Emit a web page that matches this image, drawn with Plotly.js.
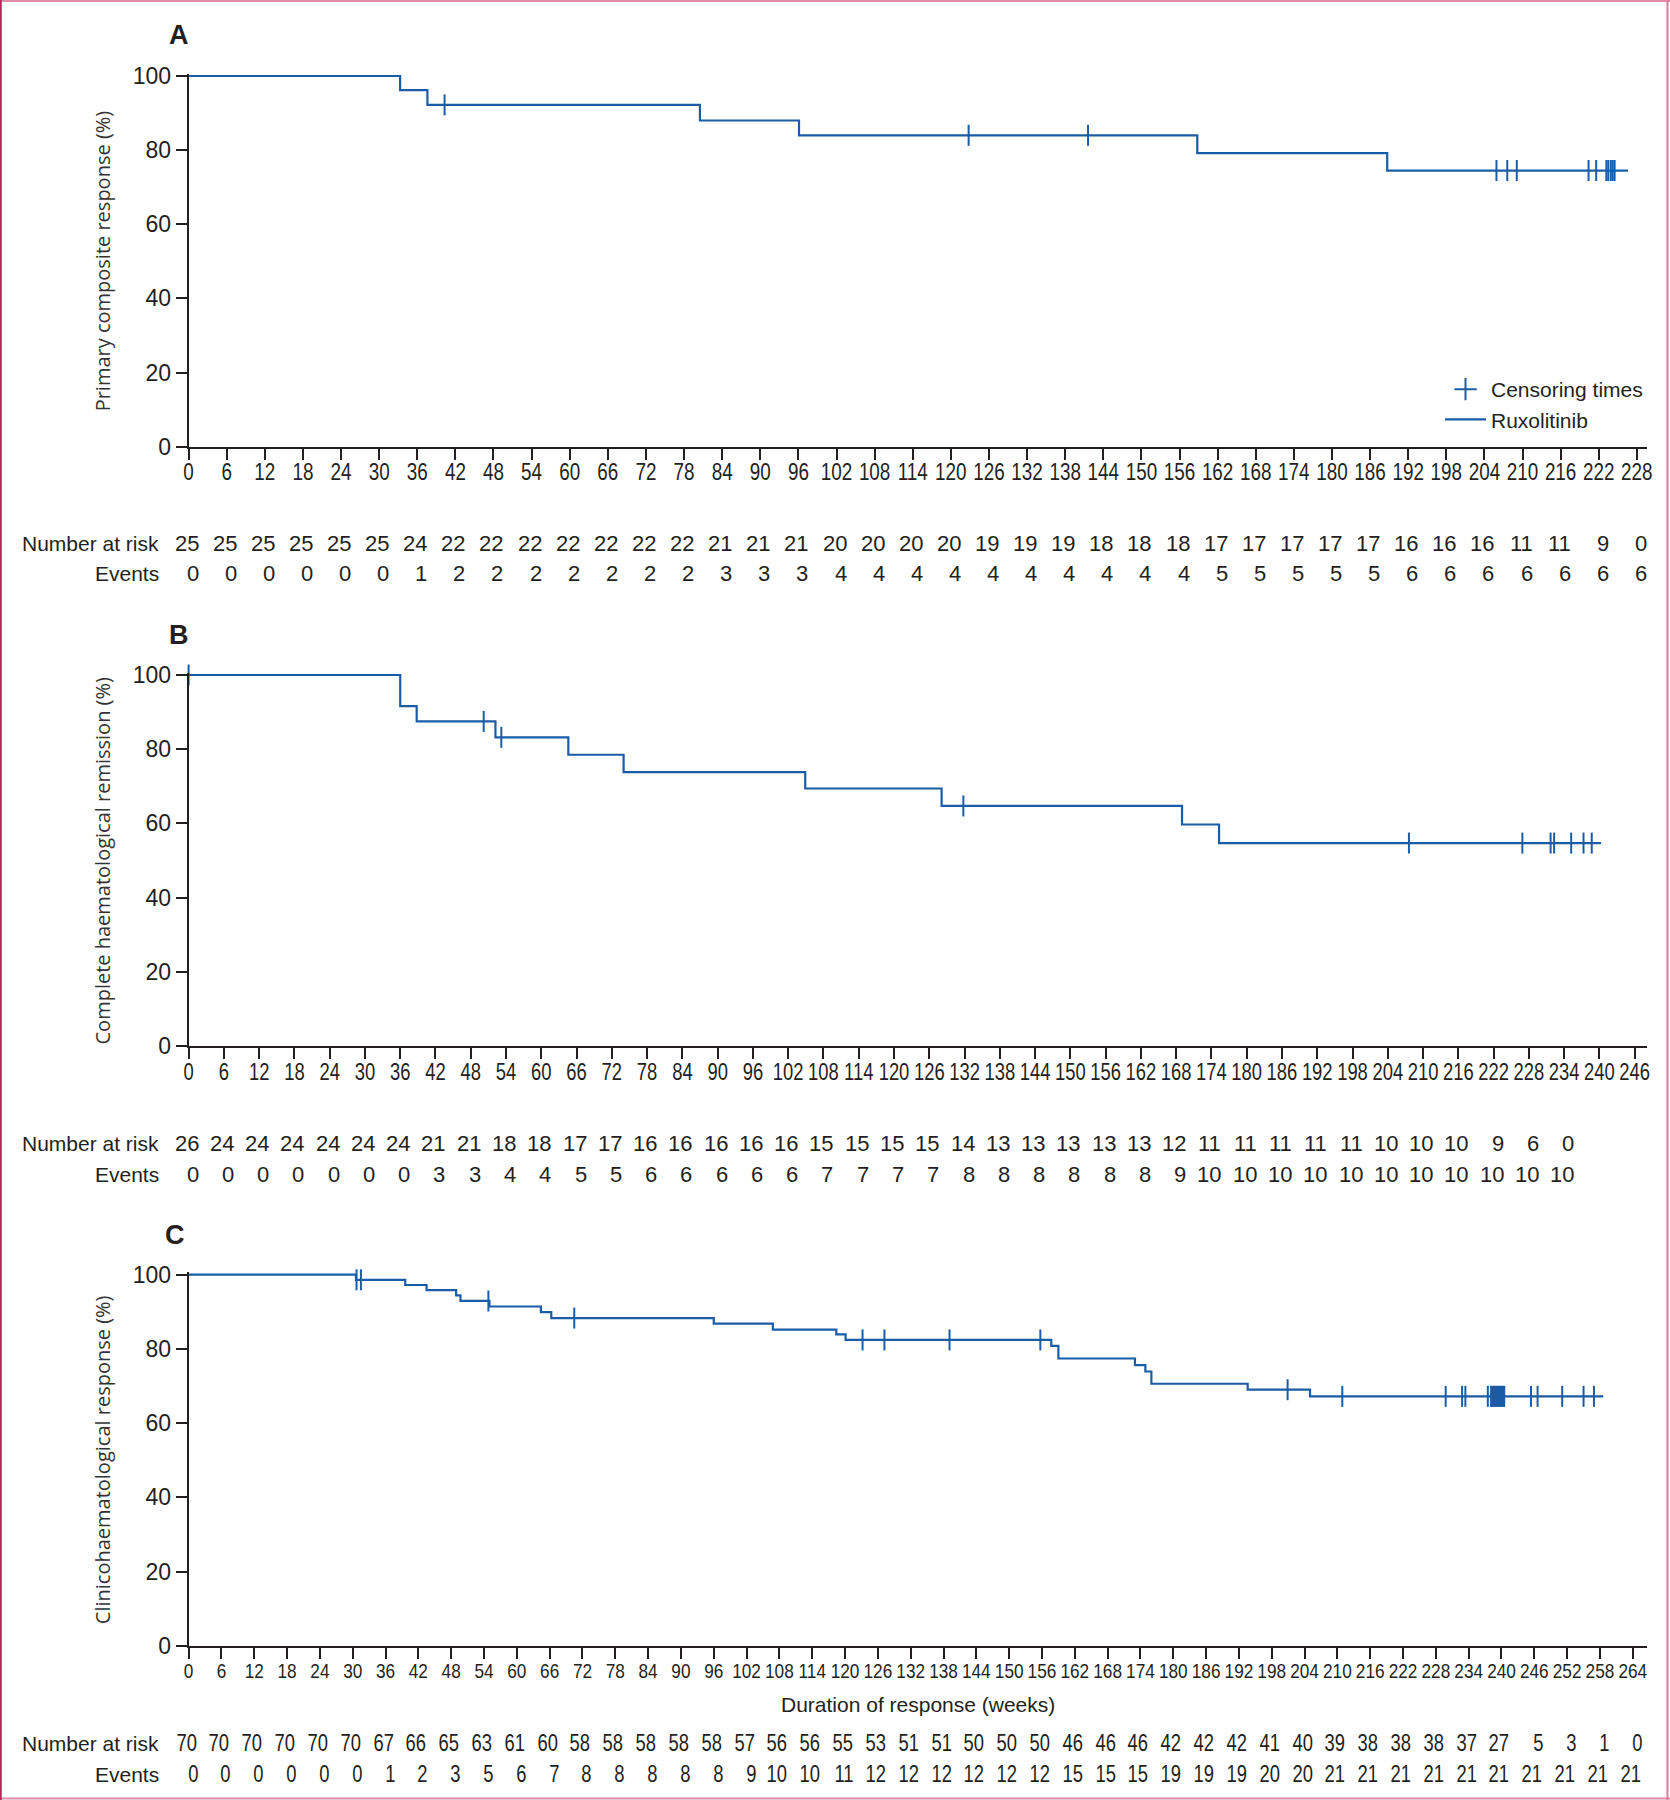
<!DOCTYPE html>
<html><head><meta charset="utf-8">
<script src="https://cdn.plot.ly/plotly-3.0.1.min.js"></script>
<style>html,body{margin:0;padding:0;background:#fff}</style>
</head><body><div id="chart" style="width:1670px;height:1800px"></div>
<script>
// ---------- Panel A: Primary composite response ----------
const aEventTimes = [33.3, 37.6, 80.5, 96.1, 158.8, 188.7];
const aSurvival   = [96.2, 92.2, 88.0, 84.0, 79.2, 74.5];
const aEnd = 226.6;
const aCensor = [40.3, 122.8, 141.6, 205.9, 207.6, 209.1, 220.4, 221.6, 223.2, 223.5, 223.9, 224.2, 224.5];
const aWeeks  = [0,6,12,18,24,30,36,42,48,54,60,66,72,78,84,90,96,102,108,114,120,126,132,138,144,150,156,162,168,174,180,186,192,198,204,210,216,222,228];
const aAtRisk = [25,25,25,25,25,25,24,22,22,22,22,22,22,22,21,21,21,20,20,20,20,19,19,19,18,18,18,17,17,17,17,17,16,16,16,11,11,9,0];
const aEvents = [0,0,0,0,0,0,1,2,2,2,2,2,2,2,3,3,3,4,4,4,4,4,4,4,4,4,4,5,5,5,5,5,6,6,6,6,6,6,6];

// ---------- Panel B: Complete haematological remission ----------
const bEventTimes = [36.0, 38.8, 52.2, 64.6, 74.0, 104.9, 128.1, 169.0, 175.3];
const bSurvival   = [91.6, 87.5, 83.2, 78.5, 73.8, 69.4, 64.7, 59.7, 54.7];
const bEnd = 240.3;
const bCensor = [0, 50.2, 53.2, 131.8, 207.6, 226.9, 231.7, 232.3, 235.2, 237.3, 238.7];
const bWeeks  = [0,6,12,18,24,30,36,42,48,54,60,66,72,78,84,90,96,102,108,114,120,126,132,138,144,150,156,162,168,174,180,186,192,198,204,210,216,222,228,234];
const bAtRisk = [26,24,24,24,24,24,24,21,21,18,18,17,17,16,16,16,16,16,15,15,15,15,14,13,13,13,13,13,12,11,11,11,11,11,10,10,10,9,6,0];
const bEvents = [0,0,0,0,0,0,0,3,3,4,4,5,5,6,6,6,6,6,7,7,7,7,8,8,8,8,8,8,9,10,10,10,10,10,10,10,10,10,10,10];

// ---------- Panel C: Clinicohaematological response ----------
const cEventTimes = [30.6, 39.6, 43.5, 48.9, 49.7, 55.0, 64.4, 66.3, 96.0, 106.8, 118.4, 120.1, 157.7, 159.0, 173.0, 174.9, 176.0, 193.6, 205.0];
const cSurvival   = [98.6, 97.2, 95.8, 94.4, 92.9, 91.4, 89.9, 88.3, 86.8, 85.2, 83.9, 82.4, 80.8, 77.4, 75.6, 73.9, 70.6, 69.0, 67.2];
const cEnd = 258.6;
const cCensor = [30.7, 31.5, 54.8, 70.5, 123.2, 127.2, 139.1, 155.7, 200.9, 210.9, 229.8, 232.8, 233.4, 237.5,
                 238.1, 238.3, 238.5, 238.7, 238.9, 239.1, 239.3, 239.5, 239.7, 239.9, 240.1, 240.3, 240.5,
                 245.4, 246.6, 251.1, 255.0, 256.9];
const cWeeks  = [0,6,12,18,24,30,36,42,48,54,60,66,72,78,84,90,96,102,108,114,120,126,132,138,144,150,156,162,168,174,180,186,192,198,204,210,216,222,228,234,240,246,252,258,264];
const cAtRisk = [70,70,70,70,70,70,67,66,65,63,61,60,58,58,58,58,58,57,56,56,55,53,51,51,50,50,50,46,46,46,42,42,42,41,40,39,38,38,38,37,27,5,3,1,0];
const cEvents = [0,0,0,0,0,0,1,2,3,5,6,7,8,8,8,8,8,9,10,10,11,12,12,12,12,12,12,15,15,15,19,19,19,20,20,21,21,21,21,21,21,21,21,21,21];

const yTitles = ['Primary composite response (%)', 'Complete haematological remission (%)', 'Clinicohaematological response (%)'];
const panelLetters = ['A', 'B', 'C'];
const seriesName = 'Ruxolitinib';
const censorName = 'Censoring times';
const xTitle = 'Duration of response (weeks)';

// ---------- helpers ----------
const W = 1670, H = 1800;
const BLUE = '#1a5ca6', INK = '#231f20';
const NUM = 'Liberation Sans, Arial, sans-serif';
const px2y = p => (H - p) / H;
const px2x = p => p / W;

function stepAt(times, surv, t) {
  let v = 100;
  for (let i = 0; i < times.length; i++) if (t >= times[i]) v = surv[i];
  return v;
}
function kmTraces(times, surv, end, censor, xa, ya, legend) {
  const lx = [0].concat(times, [end]);
  const ly = [100].concat(surv, [surv[surv.length - 1]]);
  return [
    {type: 'scatter', mode: 'lines', x: lx, y: ly, xaxis: xa, yaxis: ya,
     line: {shape: 'hv', color: BLUE, width: 2.2}, name: seriesName, showlegend: legend, hoverinfo: 'skip'},
    {type: 'scatter', mode: 'markers', x: censor, y: censor.map(t => stepAt(times, surv, t)),
     xaxis: xa, yaxis: ya, cliponaxis: false, showlegend: false, name: censorName, hoverinfo: 'skip',
     marker: {symbol: 'line-ns', size: 15, line: {color: BLUE, width: 2}}}
  ];
}

const data = [
  {type: 'scatter', mode: 'markers', x: [null], y: [null], xaxis: 'x', yaxis: 'y', name: censorName,
   showlegend: true, marker: {symbol: 'cross-thin', size: 16, line: {color: BLUE, width: 2}}}
].concat(
  kmTraces(aEventTimes, aSurvival, aEnd, aCensor, 'x', 'y', true),
  kmTraces(bEventTimes, bSurvival, bEnd, bCensor, 'x2', 'y2', false),
  kmTraces(cEventTimes, cSurvival, cEnd, cCensor, 'x3', 'y3', false)
);

// panel geometry (pixel positions in the 1670x1800 picture)
const panels = [
  {y0: 446.7, y100: 76.0,  xmax: 229.6, risk: 543.3, ev: 573.3, letterY: 35,  letterX: 179, tickSize: 23, squeeze: 0.82, standoff: -7},
  {y0: 1046,  y100: 675.0, xmax: 248.1, risk: 1143.6, ev: 1174, letterY: 635, letterX: 179, tickSize: 23, squeeze: 0.8, standoff: -7},
  {y0: 1645.8,y100: 1274.6,xmax: 266.6, risk: 1743.4, ev: 1774, letterY: 1234.5, letterX: 175, tickSize: 21, squeeze: 0.82, standoff: -6}
];
const xLeft = 188.6, xRight = 1647;
const YTOP = 100.6;

const layout = {
  width: W, height: H, margin: {l: 0, r: 0, t: 0, b: 0},
  paper_bgcolor: '#fff', plot_bgcolor: 'rgba(0,0,0,0)',
  showlegend: true,
  legend: {x: px2x(1440), y: px2y(369), xanchor: 'left', yanchor: 'top', bgcolor: 'rgba(0,0,0,0)',
           font: {family: NUM, size: 21, color: INK}, itemwidth: 41, tracegroupgap: 0, traceorder: 'normal'},
  annotations: [], shapes: []
};

panels.forEach((p, i) => {
  const sfx = i === 0 ? '' : String(i + 1);
  const pxPerUnit = (p.y0 - p.y100) / 100;
  const topPx = p.y0 - YTOP * pxPerUnit;
  layout['xaxis' + sfx] = {
    domain: [px2x(xLeft), px2x(xRight)], range: [0, p.xmax], anchor: 'y' + sfx,
    tickmode: 'linear', tick0: 0, dtick: 6, ticks: 'outside', ticklen: 11, tickwidth: 2, tickcolor: INK,
    showline: true, linewidth: 2, linecolor: INK, showgrid: false, zeroline: false, tickangle: 0,
    tickfont: {family: NUM, size: p.tickSize, color: INK}, ticklabelstandoff: p.standoff, fixedrange: true
  };
  layout['yaxis' + sfx] = {
    domain: [px2y(p.y0), px2y(topPx)], range: [0, YTOP], anchor: 'x' + sfx,
    tickmode: 'array', tickvals: [0, 20, 40, 60, 80, 100], ticktext: ['0', '20', '40', '60', '80', '100'],
    ticks: 'outside', ticklen: 11, tickwidth: 2, tickcolor: INK,
    showline: true, linewidth: 2, linecolor: INK, showgrid: false, zeroline: false,
    tickfont: {family: NUM, size: 23, color: INK}, ticklabelstandoff: 0, fixedrange: true
  };
  layout.annotations.push({xref: 'paper', yref: 'paper', x: px2x(p.letterX), y: px2y(p.letterY),
    xanchor: 'center', yanchor: 'middle', showarrow: false, text: '<b>' + panelLetters[i] + '</b>',
    font: {family: NUM, size: 27, color: INK}});
  layout.annotations.push({xref: 'paper', yref: 'paper', x: px2x(102), y: px2y((p.y0 + p.y100) / 2),
    xanchor: 'center', yanchor: 'middle', showarrow: false, textangle: -90, text: yTitles[i],
    font: {family: 'Open Sans, DejaVu Sans, sans-serif', size: 20, color: '#333'}});
  ['Number at risk', 'Events'].forEach((lab, k) => {
    layout.annotations.push({xref: 'paper', yref: 'paper', x: px2x(161), y: px2y(k === 0 ? p.risk : p.ev),
      xanchor: 'right', yanchor: 'middle', showarrow: false, text: lab,
      font: {family: NUM, size: 21, color: INK}});
  });
});

const squeezeAnn = [];
function riskRow(xref, weeks, vals, ypx, font, shift, squeeze) {
  weeks.forEach((w, j) => {
    if (squeeze) squeezeAnn.push(layout.annotations.length);
    layout.annotations.push({xref: xref, yref: 'paper', x: w, y: px2y(ypx), xanchor: 'right', yanchor: 'middle',
      xshift: shift, showarrow: false, text: String(vals[j]), font: font});
  });
}
const fA = {family: NUM, size: 22, color: INK};
const fC = {family: NUM, size: 23, color: INK};
riskRow('x', aWeeks, aAtRisk, panels[0].risk, fA, 12, false);
riskRow('x', aWeeks, aEvents, panels[0].ev, fA, 12, false);
riskRow('x2', bWeeks, bAtRisk, panels[1].risk, fA, 12, false);
riskRow('x2', bWeeks, bEvents, panels[1].ev, fA, 12, false);
riskRow('x3', cWeeks, cAtRisk, panels[2].risk, fC, 13, true);
riskRow('x3', cWeeks, cEvents, panels[2].ev, fC, 13, true);

layout.annotations.push({xref: 'paper', yref: 'paper', x: px2x((xLeft + xRight) / 2), y: px2y(1704),
  xanchor: 'center', yanchor: 'middle', showarrow: false, text: xTitle, font: {family: NUM, size: 21, color: INK}});

layout.shapes.push(
  {type: 'line', xref: 'paper', yref: 'paper', x0: 0, x1: 1, y0: px2y(1), y1: px2y(1), line: {color: '#e08aa6', width: 2}},
  {type: 'line', xref: 'paper', yref: 'paper', x0: 0, x1: 1, y0: px2y(1798.5), y1: px2y(1798.5), line: {color: '#e08aa6', width: 2}},
  {type: 'line', xref: 'paper', yref: 'paper', x0: px2x(1667.5), x1: px2x(1667.5), y0: 0, y1: 1, line: {color: '#e07a9c', width: 2}},
  {type: 'line', xref: 'paper', yref: 'paper', x0: px2x(0.8), x1: px2x(0.8), y0: 0, y1: 1, line: {color: '#c8205c', width: 2}}
);

// horizontally condense a text node (the reference uses a condensed typeface)
function condense(t, s) {
  const L = t.getComputedTextLength();
  if (L > 0) { t.setAttribute('textLength', (L * s).toFixed(2)); t.setAttribute('lengthAdjust', 'spacingAndGlyphs'); }
}
Plotly.newPlot('chart', data, layout, {displayModeBar: false, staticPlot: true}).then(gd => {
  ['xtick', 'x2tick', 'x3tick'].forEach((cls, i) => {
    gd.querySelectorAll('.' + cls + ' text').forEach(t => condense(t, panels[i].squeeze));
  });
  squeezeAnn.forEach(k => {
    const t = gd.querySelector('g.annotation[data-index="' + k + '"] text.annotation-text');
    if (t) condense(t, 0.8);
  });
});
</script>
</body></html>
